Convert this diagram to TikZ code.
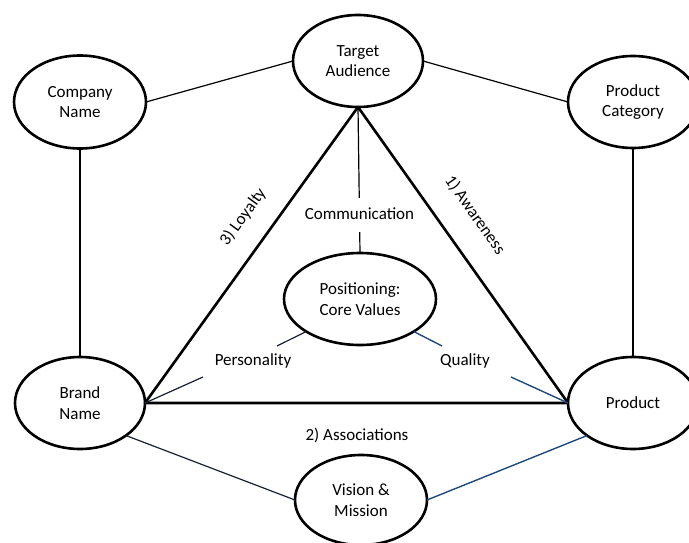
\documentclass[tikz,border=0pt]{standalone}
\usepackage{fontspec}
\setmainfont{Carlito}
\usetikzlibrary{shapes.geometric}
\definecolor{linkblue}{HTML}{1F497D}
\definecolor{linkdark}{RGB}{25,32,48}
\begin{document}
\begin{tikzpicture}[x=1pt,y=-1pt,
  concept/.style={ellipse, draw, line width=2.6pt, fill=white, align=center,
    inner sep=0pt, outer sep=0pt, font=\fontsize{17}{20.7}\selectfont},
  txt/.style={font=\fontsize{17}{20.7}\selectfont, inner sep=0pt},
  thinlink/.style={line width=1.2pt},
  bluelink/.style={line width=1.4pt, draw=linkblue},
  darklink/.style={line width=1.2pt, draw=linkdark},
  triside/.style={line width=2.6pt, line join=round}
]
\useasboundingbox (0,0) rectangle (689,543);

% concept ellipses
\node[concept, minimum width=130pt, minimum height=92pt] (ta) at (358,61) {Target\\Audience};
\node[concept, minimum width=132pt, minimum height=93pt] (cn) at (80,102) {Company\\Name};
\node[concept, minimum width=130pt, minimum height=92pt] (pc) at (633,102) {Product\\Category};
\node[concept, minimum width=130pt, minimum height=92pt] (bn) at (80,403) {Brand\\Name};
\node[concept, minimum width=130pt, minimum height=92pt] (pd) at (633,403) {Product};
\node[concept, minimum width=152pt, minimum height=92pt] (pos) at (360,299) {Positioning:\\Core Values};
\node[concept, minimum width=132pt, minimum height=90pt] (vm) at (361,500) {Vision \&\\Mission};

% outer frame
\draw[thinlink] (cn.east) -- (ta.west);
\draw[thinlink] (ta.east) -- (pc.west);
\draw[thinlink] (cn.south) -- (bn.north);
\draw[thinlink] (pc.south) -- (pd.north);
\draw[darklink] (bn.south east) -- (vm.west);
\draw[bluelink] (pd.south west) -- (vm.east);

% brand triangle
\draw[triside] (ta.south) -- (bn.east) -- (pd.west) -- cycle;

% links to the positioning core
\draw[thinlink] (ta.south) -- node[pos=0.74, txt, fill=white, text height=12pt,
  text depth=4pt, inner ysep=9pt, inner xsep=2pt] (com) {Communication} (pos.north);

\coordinate (pl1) at (203,377);
\coordinate (pl2) at (277,346);
\draw[darklink] (bn.east) -- (pl1);
\draw[darklink] (pl2) -- (pos.south west);
\node[txt] (pers) at (253,361) {Personality};

\coordinate (ql1) at (442,346);
\coordinate (ql2) at (511,377);
\draw[bluelink] (pos.south east) -- (ql1);
\draw[bluelink] (ql2) -- (pd.west);
\node[txt] (qual) at (465,361) {Quality};

% triangle side labels
\node[txt, rotate=54] (loy) at (243,217) {3) Loyalty};
\node[txt, rotate=-55] (awa) at (475,215) {1) Awareness};
\node[txt] (asc) at (357,435) {2) Associations};
\end{tikzpicture}
\end{document}
